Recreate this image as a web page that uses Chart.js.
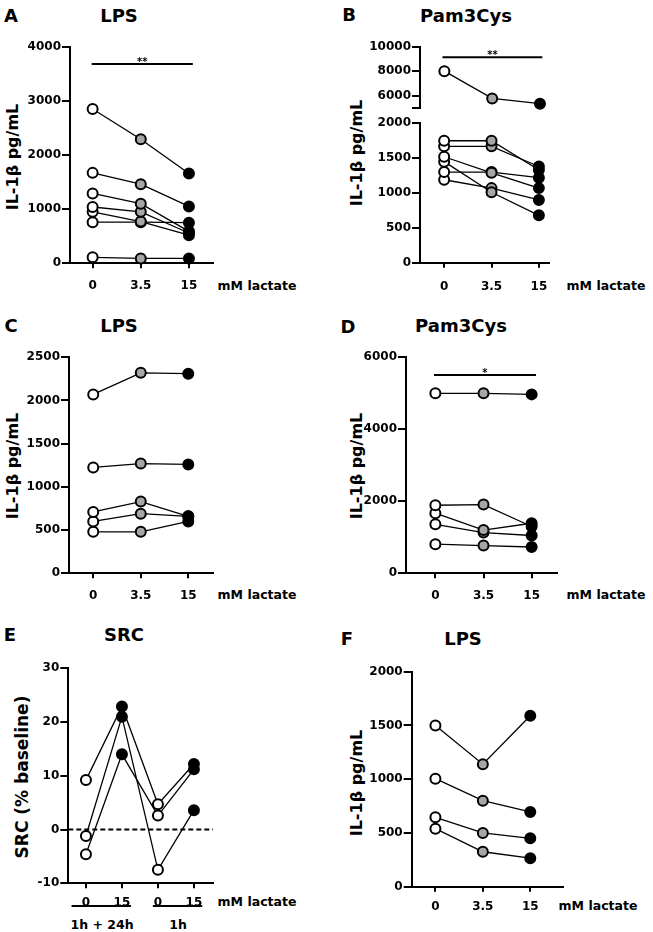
<!DOCTYPE html>
<html><head><meta charset="utf-8">
<script src="https://cdn.jsdelivr.net/npm/chart.js@4.4.1/dist/chart.umd.min.js"></script>
<style>
body{margin:0;background:#fff;width:653px;height:932px;position:relative;overflow:hidden;font-family:'DejaVu Sans',sans-serif;}
canvas{position:absolute;}
.t{position:absolute;transform:translate(-50%,-50%);font-weight:bold;white-space:nowrap;color:#000;line-height:1;}
.yt{position:absolute;transform:translate(-50%,-50%) rotate(-90deg);font-weight:bold;white-space:nowrap;color:#000;line-height:1;}
</style></head><body>
<div class="t" style="left:11px;top:16px;font-size:18px">A</div>
<div class="t" style="left:119px;top:16px;font-size:18px">LPS</div>
<div class="t" style="left:349px;top:15px;font-size:18px">B</div>
<div class="t" style="left:466px;top:16px;font-size:18px">Pam3Cys</div>
<div class="t" style="left:11px;top:326px;font-size:18px">C</div>
<div class="t" style="left:119px;top:326px;font-size:18px">LPS</div>
<div class="t" style="left:348px;top:327px;font-size:18px">D</div>
<div class="t" style="left:461px;top:326px;font-size:18px">Pam3Cys</div>
<div class="t" style="left:10px;top:635px;font-size:18px">E</div>
<div class="t" style="left:124px;top:635px;font-size:18px">SRC</div>
<div class="t" style="left:347px;top:639px;font-size:18px">F</div>
<div class="t" style="left:463px;top:639px;font-size:18px">LPS</div>

<div class="yt" style="left:13px;top:157px;font-size:16px">IL-1β pg/mL</div>
<div class="yt" style="left:357px;top:153px;font-size:16px">IL-1β pg/mL</div>
<div class="yt" style="left:13px;top:466px;font-size:16px">IL-1β pg/mL</div>
<div class="yt" style="left:357px;top:466px;font-size:16px">IL-1β pg/mL</div>
<div class="yt" style="left:22px;top:777px;font-size:17px">SRC (% baseline)</div>
<div class="yt" style="left:357px;top:783px;font-size:16px">IL-1β pg/mL</div>

<div class="t" style="left:257px;top:286px;font-size:12.5px">mM lactate</div>
<div class="t" style="left:606px;top:286px;font-size:12.5px">mM lactate</div>
<div class="t" style="left:257px;top:595px;font-size:12.5px">mM lactate</div>
<div class="t" style="left:606px;top:595px;font-size:12.5px">mM lactate</div>
<div class="t" style="left:257px;top:902px;font-size:12.5px">mM lactate</div>
<div class="t" style="left:598px;top:906px;font-size:12.5px">mM lactate</div>
<div class="t" style="left:102px;top:925px;font-size:12.5px">1h + 24h</div>
<div class="t" style="left:178px;top:925px;font-size:12.5px">1h</div>

<script>
// ---- categories ----
const catsLactate = ['0', '3.5', '15'];
const catsSRC = ['0', '15', '0', '15'];
const fillLactate = ['#ffffff', '#a6a6a6', '#000000'];
const fillSRC = ['#ffffff', '#000000', '#ffffff', '#000000'];

// ---- Panel A: LPS ----
const lpsA1 = [2850, 2290, 1660];
const lpsA2 = [1670, 1460, 1050];
const lpsA3 = [1290, 1100, 590];
const lpsA4 = [1040, 950, 560];
const lpsA5 = [950, 770, 520];
const lpsA6 = [760, 760, 750];
const lpsA7 = [110, 90, 90];

// ---- Panel B: Pam3Cys (broken axis) ----
const pamB1 = [8000, 5770, 5340];
const pamB2 = [1750, 1750, 1330];
const pamB3 = [1670, 1670, 1380];
const pamB4 = [1520, 1290, 1070];
const pamB5 = [1300, 1300, 1220];
const pamB6 = [1450, 1010, 680];
const pamB7 = [1190, 1070, 900];
const pamBTopTicks = [5000, 6000, 8000, 10000];

// ---- Panel C: LPS ----
const lpsC1 = [2070, 2320, 2310];
const lpsC2 = [1225, 1270, 1260];
const lpsC3 = [710, 830, 660];
const lpsC4 = [600, 690, 660];
const lpsC5 = [480, 480, 600];

// ---- Panel D: Pam3Cys ----
const pamD1 = [5000, 5000, 4970];
const pamD2 = [1890, 1910, 1300];
const pamD3 = [1670, 1200, 1390];
const pamD4 = [1360, 1130, 1050];
const pamD5 = [810, 770, 730];

// ---- Panel E: SRC ----
const srcE1 = [9.2, 22.9, 4.7, 12.2];
const srcE2 = [-1.2, 21.0, -7.5, 3.6];
const srcE3 = [-4.6, 14.0, 2.6, 11.2];
const srcGroups = ['1h + 24h', '1h'];

// ---- Panel F: LPS ----
const lpsF1 = [1500, 1140, 1590];
const lpsF2 = [1005, 800, 695];
const lpsF3 = [645, 500, 450];
const lpsF4 = [540, 325, 265];

const tickFont = {family: 'DejaVu Sans', weight: 'bold', size: 12};

function makeDatasets(series, fills) {
  return series.map(vals => ({
    data: vals.map((v, i) => ({x: i, y: v})),
    borderColor: '#000',
    borderWidth: 1.3,
    pointRadius: 5,
    pointBorderWidth: 2,
    pointBorderColor: '#000',
    pointBackgroundColor: fills,
    showLine: true,
    clip: false
  }));
}

function makeChart(c) {
  const cv = document.createElement('canvas');
  cv.width = c.w; cv.height = c.h;
  cv.style.left = c.left + 'px'; cv.style.top = c.top + 'px';
  cv.style.width = c.w + 'px'; cv.style.height = c.h + 'px';
  document.body.appendChild(cv);
  const extras = {
    id: 'extras',
    beforeDatasetsDraw(chart) {
      if (c.hline === undefined) return;
      const ctx = chart.ctx, a = chart.chartArea;
      const y = chart.scales.y.getPixelForValue(c.hline);
      ctx.save();
      ctx.strokeStyle = '#000'; ctx.lineWidth = 2; ctx.setLineDash([5, 3]);
      ctx.beginPath(); ctx.moveTo(a.left, y); ctx.lineTo(a.right, y); ctx.stroke();
      ctx.restore();
    },
    afterDraw(chart) {
      const ctx = chart.ctx, xs = chart.scales.x, ys = chart.scales.y;
      ctx.save();
      if (c.sig) {
        const y = ys.getPixelForValue(c.sig.y);
        const x1 = xs.getPixelForValue(c.sig.from), x2 = xs.getPixelForValue(c.sig.to);
        ctx.strokeStyle = '#000'; ctx.lineWidth = 2;
        ctx.beginPath(); ctx.moveTo(x1, y); ctx.lineTo(x2, y); ctx.stroke();
        ctx.fillStyle = '#000'; ctx.font = 'bold 10px "DejaVu Sans"';
        ctx.textAlign = 'center'; ctx.textBaseline = 'alphabetic';
        ctx.fillText(c.sig.label, (x1 + x2) / 2, y + 1);
      }
      if (c.groups) {
        const y = chart.chartArea.bottom + 22.7;
        ctx.strokeStyle = '#000'; ctx.lineWidth = 2;
        c.groups.forEach(g => {
          ctx.beginPath();
          ctx.moveTo(xs.getPixelForValue(g[0]), y);
          ctx.lineTo(xs.getPixelForValue(g[1]), y);
          ctx.stroke();
        });
      }
      ctx.restore();
    }
  };
  const yTicks = {
    color: '#000', font: tickFont, padding: 1, autoSkip: false,
    callback: v => (c.blank && c.blank.includes(v)) ? '' : String(v)
  };
  if (c.yStep) yTicks.stepSize = c.yStep;
  return new Chart(cv, {
    type: 'line',
    data: {datasets: makeDatasets(c.series, c.fills)},
    plugins: [extras],
    options: {
      responsive: false, animation: false,
      layout: {padding: {left: 0, top: c.pt, right: c.pr, bottom: c.pb || 0}},
      plugins: {legend: {display: false}, tooltip: {enabled: false}},
      scales: {
        x: {
          type: 'linear', display: c.showX !== false, min: c.xMin, max: c.xMax,
          afterBuildTicks: s => { s.ticks = c.cats.map((_, i) => ({value: i})); },
          afterFit: s => { s.height = c.xh; },
          ticks: {color: '#000', font: tickFont, padding: c.xPad, autoSkip: false, maxRotation: 0,
                  callback: v => c.cats[Math.round(v)]},
          grid: {drawOnChartArea: false, drawTicks: true, tickLength: 5, color: '#000', lineWidth: 2},
          border: {display: true, color: '#000', width: 2}
        },
        y: {
          type: 'linear', min: c.yMin, max: c.yMax,
          afterBuildTicks: c.yTicks ? (s => { s.ticks = c.yTicks.map(v => ({value: v})); }) : undefined,
          afterFit: s => { s.width = c.yw; },
          ticks: yTicks,
          grid: {drawOnChartArea: false, drawTicks: true, tickLength: 8, color: '#000', lineWidth: 2},
          border: {display: true, color: '#000', width: 2}
        }
      }
    }
  });
}

const pamBAll = [pamB1, pamB2, pamB3, pamB4, pamB5, pamB6, pamB7];

// A
makeChart({left: 0, top: 30, w: 220, h: 270, pt: 16.7, pr: 6.7, yw: 70, xh: 36.7, xPad: 10,
  xMin: -0.47, xMax: 2.5, yMin: 0, yMax: 4000, yStep: 1000, cats: catsLactate, fills: fillLactate,
  series: [lpsA1, lpsA2, lpsA3, lpsA4, lpsA5, lpsA6, lpsA7],
  sig: {from: -0.02, to: 2.08, y: 3680, label: '**'}});
// B top segment
makeChart({left: 330, top: 36, w: 230, h: 80, pt: 10.7, pr: 10, pb: 8, yw: 90, xh: 0, xPad: 0, showX: false,
  xMin: -0.51, xMax: 2.21, yMin: 5000, yMax: 10000, yTicks: pamBTopTicks, blank: [5000],
  cats: catsLactate, fills: fillLactate,
  series: pamBAll.filter(s => Math.min(...s) >= 5000),
  sig: {from: -0.04, to: 2.05, y: 9140, label: '**'}});
// B bottom segment
makeChart({left: 330, top: 110, w: 230, h: 190, pt: 13.3, pr: 10, yw: 90, xh: 37.3, xPad: 12,
  xMin: -0.51, xMax: 2.21, yMin: 0, yMax: 2000, yStep: 500, cats: catsLactate, fills: fillLactate,
  series: pamBAll.filter(s => Math.max(...s) <= 2000)});
// C
makeChart({left: 0, top: 340, w: 220, h: 270, pt: 17.3, pr: 6.7, yw: 69, xh: 36.7, xPad: 10,
  xMin: -0.51, xMax: 2.52, yMin: 0, yMax: 2500, yStep: 500, cats: catsLactate, fills: fillLactate,
  series: [lpsC1, lpsC2, lpsC3, lpsC4, lpsC5]});
// D
makeChart({left: 330, top: 340, w: 240, h: 270, pt: 17.3, pr: 13.3, yw: 76, xh: 36.7, xPad: 10,
  xMin: -0.61, xMax: 2.52, yMin: 0, yMax: 6000, yStep: 2000, cats: catsLactate, fills: fillLactate,
  series: [pamD1, pamD2, pamD3, pamD4, pamD5],
  sig: {from: -0.03, to: 2.09, y: 5510, label: '*'}});
// E
makeChart({left: 0, top: 650, w: 220, h: 282, pt: 18.3, pr: 6.7, yw: 68.3, xh: 48.7, xPad: 7,
  xMin: -0.49, xMax: 3.53, yMin: -10, yMax: 30, yStep: 10, cats: catsSRC, fills: fillSRC,
  series: [srcE1, srcE2, srcE3], hline: 0,
  groups: [[-0.4, 1.25], [1.86, 3.23]]});
// F
makeChart({left: 330, top: 650, w: 240, h: 282, pt: 21.7, pr: 5, yw: 81.7, xh: 45.3, xPad: 8,
  xMin: -0.5, xMax: 2.69, yMin: 0, yMax: 2000, yStep: 500, cats: catsLactate, fills: fillLactate,
  series: [lpsF1, lpsF2, lpsF3, lpsF4]});
</script>
</body></html>
